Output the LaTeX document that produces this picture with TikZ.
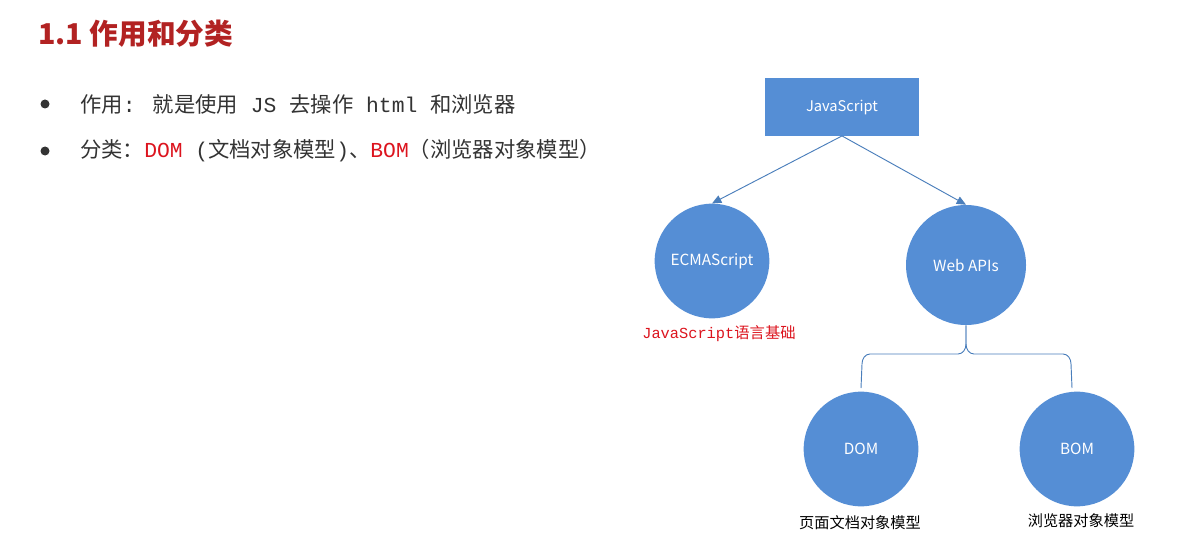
\documentclass[tikz,border=0pt]{standalone}
\usepackage{fontspec}
\setmainfont{Noto Sans CJK SC}
\newfontfamily\monof{Liberation Mono}
\usetikzlibrary{arrows.meta}
\definecolor{titlered}{RGB}{178,34,34}
\definecolor{nodeblue}{RGB}{85,142,213}
\definecolor{lineblue}{RGB}{74,126,187}
\definecolor{txtgray}{RGB}{51,51,51}
\definecolor{hlred}{RGB}{220,20,30}
\tikzset{
  blob/.style={circle, fill=nodeblue, draw=none, text=white, font=\fontsize{11.5}{13}\selectfont, minimum size=#1, inner sep=0pt},
  topbox/.style={rectangle, fill=nodeblue, text=white, font=\fontsize{11}{13}\selectfont, minimum width=115pt, minimum height=43pt, inner sep=0pt},
  conn/.style={draw=lineblue, line width=0.7pt},
  arr/.style={conn, -{Triangle[length=7pt,width=6pt]}},
  bul/.style={anchor=west, text=txtgray, font=\fontsize{16}{19}\selectfont, inner sep=0pt},
  capt/.style={text=black, font=\fontsize{11.4}{13}\selectfont, inner sep=0pt},
}
\begin{document}
\begin{tikzpicture}[x=0.75pt,y=-0.75pt]
\useasboundingbox (0,0) rectangle (1194,556);
% title
\node[anchor=west, text=titlered, font=\bfseries\fontsize{21.5}{25}\selectfont, inner sep=0pt] (title) at (38,34) {1.1 作用和分类};
% bullets
\fill[txtgray] (45,104) circle (4.5);
\fill[txtgray] (45,151) circle (4.5);
\node[bul] (b1) at (80,104) {作用{\monof: }就是使用{\monof\ JS }去操作{\monof\ html }和浏览器};
\node[bul] (b2) at (80,151) {分类：{\monof\color{hlred}DOM}{\monof\ (}文档对象模型{\monof)}、{\monof\color{hlred}BOM}（浏览器对象模型）};
% diagram
\node[topbox] (js) at (842,107) {JavaScript};
\node[blob=86pt] (ecma) at (712,261) {ECMAScript};
\node[blob=90pt] (web) at (966,265) {Web APIs};
\node[blob=86pt] (dom) at (861,449) {DOM};
\node[blob=86pt] (bom) at (1077,449) {BOM};
\draw[arr] (js.south) -- (ecma.north);
\draw[arr] (js.south) -- (web.north);
% brace connector
\coordinate (bl) at (861,388);
\coordinate (br) at (1072,388);
\draw[conn] (web.south) -- (966,344) to[out=-90,in=0] (958,354) -- (870,354) to[out=180,in=90] (862,364) -- (bl);
\draw[conn] (web.south) -- (966,344) to[out=-90,in=180] (974,354) -- (1063,354) to[out=0,in=90] (1071,364) -- (br);
% captions
\node[font=\fontsize{11.5}{13}\selectfont, text=hlred, inner sep=0pt] (ecmacap) at (719,334) {{\monof JavaScript}语言基础};
\node[capt] (domcap) at (860,523) {页面文档对象模型};
\node[capt] (bomcap) at (1081,521) {浏览器对象模型};
\end{tikzpicture}
\end{document}
